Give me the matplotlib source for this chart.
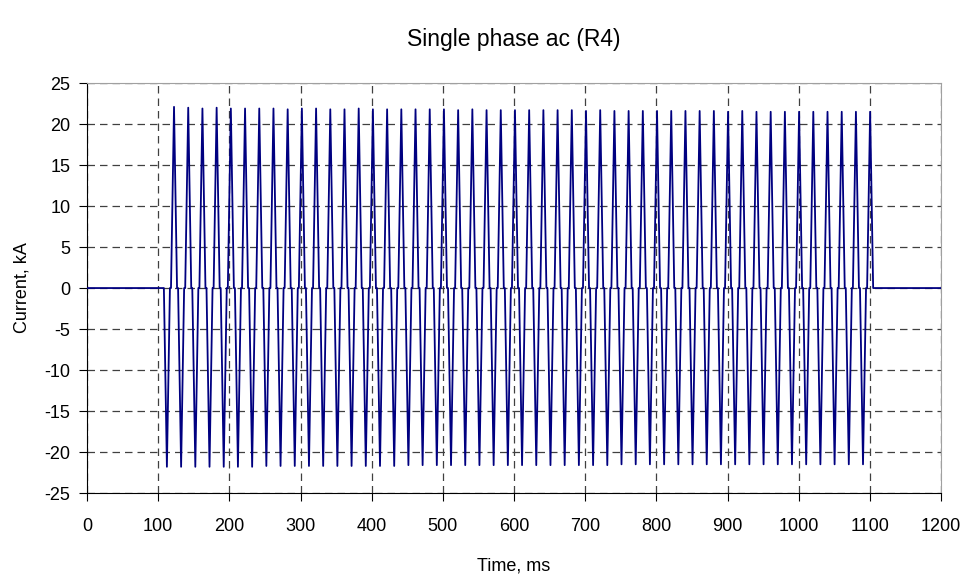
import matplotlib
matplotlib.use("Agg")
import matplotlib.pyplot as plt

plt.rcParams['font.family'] = ['Liberation Sans', 'DejaVu Sans']
plt.rcParams['axes.unicode_minus'] = False

# Data: 50 cycles of 50 Hz current, each half-cycle a narrow pulse
first_onset = 108.0      # ms, start of first (negative) pulse
period = 19.96           # ms
n_cycles = 50
pulse_width = 8.5        # ms from zero to zero
gap = 1.5                # ms flat at zero between pulses

pos_peaks = [22.1, 22.0, 21.9, 22.0, 21.9, 21.9, 21.9, 21.9, 21.8, 21.9,
             21.9, 21.8, 21.8, 21.9, 21.8, 21.8, 21.8, 21.8, 21.8, 21.8,
             21.7, 21.8, 21.7, 21.7, 21.7, 21.7, 21.7, 21.7, 21.7, 21.6,
             21.7, 21.6, 21.6, 21.6, 21.6, 21.6, 21.6, 21.6, 21.6, 21.5,
             21.6, 21.5, 21.5, 21.5, 21.5, 21.5, 21.5, 21.5, 21.5, 21.5]
neg_peaks = [-21.8, -21.8, -21.8, -21.8, -21.8, -21.8, -21.8, -21.7, -21.7, -21.7,
             -21.7, -21.7, -21.7, -21.7, -21.7, -21.7, -21.7, -21.6, -21.6, -21.6,
             -21.6, -21.6, -21.6, -21.6, -21.6, -21.6, -21.6, -21.6, -21.6, -21.6,
             -21.6, -21.6, -21.5, -21.5, -21.5, -21.5, -21.5, -21.5, -21.5, -21.5,
             -21.5, -21.5, -21.5, -21.5, -21.5, -21.5, -21.5, -21.5, -21.5, -21.5]

x_ticks = list(range(0, 1201, 100))
y_ticks = list(range(-25, 26, 5))

# build the waveform polyline from the peak lists
t = [0.0]
cur = [0.0]
for k in range(n_cycles):
    t0 = first_onset + k * period
    t1 = t0 + pulse_width + gap
    t += [t0, t0 + pulse_width / 2, t0 + pulse_width,
          t1, t1 + pulse_width / 2, t1 + pulse_width]
    cur += [0, neg_peaks[k], 0, 0, pos_peaks[k], 0]
t.append(1200.0)
cur.append(0.0)

fig = plt.figure(figsize=(9.7, 5.79), dpi=100)
ax = fig.add_axes([0.0897, 0.1485, 0.8805, 0.708])

ax.plot(t, cur, color='#000080', linewidth=1.3, zorder=3)

ax.set_xlim(0, 1200)
ax.set_ylim(-25, 25)
ax.set_xticks(x_ticks)
ax.set_yticks(y_ticks)
ax.tick_params(axis='both', labelsize=13, direction='out', length=6, width=0.8)
ax.tick_params(axis='x', pad=12)
ax.tick_params(axis='y', pad=6)
ax.grid(True, color='#404040', linestyle=(0, (6, 4)), linewidth=0.9)

ax.spines['left'].set_color('black')
ax.spines['bottom'].set_color('black')
ax.spines['top'].set_color('#a0a0a0')
ax.spines['right'].set_color('#a0a0a0')

ax.set_xlabel('Time, ms', fontsize=13, labelpad=16)
ax.set_ylabel('Current, kA', fontsize=13, labelpad=10)
fig.text(0.53, 0.931, 'Single phase ac (R4)', fontsize=16.5, ha='center', va='center')

fig.savefig('out.png', dpi=100)
